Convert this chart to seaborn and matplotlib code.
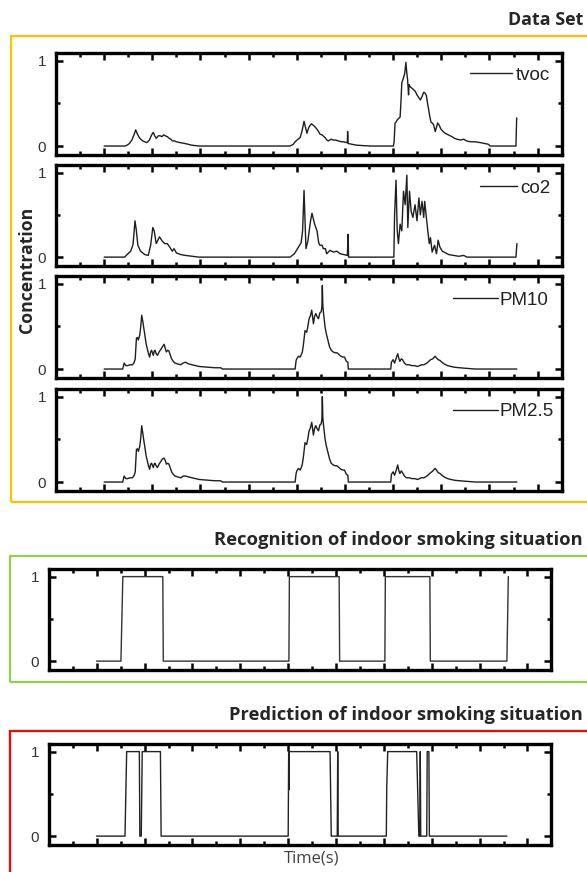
import matplotlib
matplotlib.use("Agg")
import matplotlib.pyplot as plt
import seaborn as sns
from matplotlib.patches import Rectangle
from matplotlib.ticker import MultipleLocator, FixedLocator

# ---------------- data (time in tick units, values normalised 0..1) ----------------
tvoc_t = [2.0, 2.87, 2.95, 3.05, 3.15, 3.25, 3.31, 3.38, 3.48, 3.6, 3.77, 3.88, 3.97, 4.04, 4.1, 4.16,
          4.25, 4.33, 4.4, 4.47, 4.54, 4.62, 4.7, 4.77, 4.83, 4.92, 5.0, 5.15, 5.35, 5.5, 5.63, 5.8, 5.97,
          9.72, 9.85, 9.93, 10.05, 10.14, 10.22, 10.3, 10.36, 10.42, 10.5, 10.6, 10.7, 10.77, 10.88, 10.96,
          11.05, 11.17, 11.25, 11.31, 11.42, 11.52, 11.62, 11.72, 11.86, 11.95, 12.07, 12.1, 12.11, 12.13,
          12.3, 12.48, 13.04, 14.01, 14.04, 14.08, 14.12, 14.18, 14.22, 14.29, 14.33, 14.36, 14.43, 14.48,
          14.53, 14.57, 14.6, 14.64, 14.66, 14.69, 14.77, 14.85, 14.92, 14.99, 15.06, 15.13, 15.2, 15.27,
          15.33, 15.38, 15.43, 15.48, 15.52, 15.57, 15.62, 15.68, 15.75, 15.8, 15.85, 15.92, 15.98, 16.07,
          16.16, 16.3, 16.44, 16.55, 16.65, 16.8, 16.93, 17.05, 17.2, 17.4, 17.62, 17.8, 17.96, 18.03,
          19.1, 19.13]
tvoc_v = [0, 0, 0.01, 0.03, 0.07, 0.14, 0.19, 0.14, 0.09, 0.06, 0.04, 0.07, 0.13, 0.16, 0.12, 0.09,
          0.12, 0.12, 0.11, 0.13, 0.12, 0.11, 0.09, 0.08, 0.06, 0.06, 0.05, 0.04, 0.03, 0.02, 0.01, 0.005, 0,
          0, 0.02, 0.05, 0.08, 0.10, 0.18, 0.29, 0.22, 0.15, 0.22, 0.26, 0.24, 0.22, 0.18, 0.14,
          0.13, 0.10, 0.07, 0.06, 0.08, 0.07, 0.07, 0.06, 0.05, 0.05, 0.04, 0.04, 0.17, 0.03,
          0.02, 0.01, 0, 0, 0.05, 0.27, 0.28, 0.31, 0.32, 0.34, 0.55, 0.74, 0.80, 0.85,
          0.98, 0.85, 0.78, 0.60, 0.72, 0.70, 0.68, 0.66, 0.64, 0.60, 0.57, 0.54, 0.58, 0.63,
          0.62, 0.59, 0.50, 0.42, 0.35, 0.28, 0.27, 0.25, 0.17, 0.22, 0.27, 0.24, 0.20, 0.17,
          0.15, 0.13, 0.11, 0.09, 0.08, 0.07, 0.08, 0.06, 0.05, 0.05, 0.04, 0.03, 0.02, 0,
          0, 0.33]

co2_t = [2.0, 2.85, 2.95, 3.1, 3.2, 3.28, 3.33, 3.4, 3.51, 3.69, 3.83, 3.93, 4.02, 4.08, 4.16, 4.3,
         4.41, 4.52, 4.62, 4.72, 4.83, 4.9, 5.0, 5.18, 5.38, 5.66, 5.93,
         9.72, 9.9, 10.07, 10.18, 10.24, 10.3, 10.38, 10.46, 10.56, 10.63, 10.74, 10.84, 10.91, 10.96,
         11.05, 11.1, 11.19, 11.24, 11.38, 11.52, 11.66, 11.8, 11.96, 12.1, 12.13, 12.15,
         14.03, 14.06, 14.12, 14.17, 14.22, 14.29, 14.36, 14.43, 14.5, 14.57, 14.61, 14.68, 14.75, 14.82,
         14.91, 14.99, 15.07, 15.13, 15.2, 15.27, 15.31, 15.38, 15.44, 15.5, 15.55, 15.62, 15.72, 15.8,
         15.87, 15.94, 16.04, 16.18, 16.31, 16.52, 16.73, 16.93, 17.07, 19.1, 19.14]
co2_v = [0, 0, 0.03, 0.07, 0.15, 0.43, 0.33, 0.14, 0.07, 0.03, 0.02, 0.14, 0.35, 0.31, 0.16, 0.24,
         0.19, 0.16, 0.16, 0.12, 0.07, 0.10, 0.05, 0.03, 0.02, 0.01, 0,
         0, 0.04, 0.12, 0.17, 0.31, 0.79, 0.10, 0.19, 0.41, 0.52, 0.39, 0.31, 0.17, 0.14,
         0.14, 0.10, 0.10, 0.04, 0.08, 0.06, 0.07, 0.04, 0.03, 0.02, 0.27, 0,
         0, 0.50, 0.91, 0.31, 0.16, 0.39, 0.31, 0.78, 0.62, 0.97, 0.35, 0.78, 0.54, 0.47,
         0.62, 0.43, 0.70, 0.50, 0.66, 0.47, 0.66, 0.47, 0.31, 0.16, 0.23, 0.06, 0.14, 0.04,
         0.20, 0.12, 0.07, 0.05, 0.03, 0.02, 0.01, 0.02, 0, 0, 0.16]

pm10_t = [2.0, 2.77, 2.83, 2.9, 2.97, 3.08, 3.18, 3.25, 3.29, 3.34, 3.38, 3.42, 3.48, 3.52, 3.56, 3.61,
          3.65, 3.69, 3.74, 3.79, 3.84, 3.89, 3.93, 3.97, 4.04, 4.08, 4.11, 4.16, 4.21, 4.28, 4.35, 4.42,
          4.49, 4.54, 4.58, 4.64, 4.69, 4.75, 4.8, 4.87, 4.94, 5.05, 5.18, 5.28, 5.38, 5.5, 5.66, 5.8,
          5.94, 6.15, 6.35, 6.6, 6.84, 6.91,
          9.93, 9.97, 10.0, 10.07, 10.14, 10.2, 10.23, 10.28, 10.34, 10.41, 10.46, 10.51, 10.56, 10.62,
          10.66, 10.69, 10.74, 10.79, 10.85, 10.9, 10.96, 11.01, 11.04, 11.06, 11.08, 11.1, 11.14, 11.17,
          11.22, 11.28, 11.36, 11.43, 11.51, 11.6, 11.67, 11.75, 11.83, 11.92, 11.98, 12.06, 12.12, 12.14,
          13.9, 13.93, 14.0, 14.06, 14.12, 14.19, 14.24, 14.28, 14.34, 14.39, 14.47, 14.55, 14.66, 14.78,
          14.9, 15.01, 15.1, 15.17, 15.28, 15.4, 15.48, 15.56, 15.65, 15.74, 15.8, 15.87, 15.95, 16.02,
          16.12, 16.26, 16.4, 16.57, 16.75, 16.96, 17.2, 17.43, 19.14]
pm10_v = [0, 0, 0.07, 0.04, 0.04, 0.05, 0.05, 0.08, 0.12, 0.36, 0.37, 0.34, 0.40, 0.50, 0.63, 0.55,
          0.47, 0.40, 0.30, 0.24, 0.18, 0.14, 0.20, 0.22, 0.16, 0.21, 0.22, 0.18, 0.16, 0.20, 0.23, 0.26,
          0.29, 0.24, 0.20, 0.22, 0.21, 0.16, 0.12, 0.09, 0.07, 0.06, 0.05, 0.07, 0.08, 0.06, 0.05, 0.04,
          0.03, 0.025, 0.02, 0.015, 0.015, 0,
          0, 0.10, 0.12, 0.15, 0.14, 0.18, 0.20, 0.30, 0.45, 0.43, 0.50, 0.59, 0.62, 0.69,
          0.60, 0.53, 0.62, 0.65, 0.61, 0.59, 0.66, 0.67, 0.72, 0.98, 0.75, 0.68, 0.58, 0.50,
          0.42, 0.35, 0.26, 0.22, 0.20, 0.19, 0.19, 0.17, 0.15, 0.14, 0.14, 0.09, 0.08, 0,
          0, 0.08, 0.11, 0.07, 0.12, 0.18, 0.12, 0.09, 0.12, 0.11, 0.07, 0.05, 0.05, 0.04,
          0.04, 0.03, 0.04, 0.05, 0.05, 0.07, 0.09, 0.11, 0.12, 0.15, 0.13, 0.11, 0.10, 0.08,
          0.06, 0.04, 0.03, 0.02, 0.015, 0.01, 0.005, 0, 0]

pm25_t = pm10_t
pm25_v = [0, 0, 0.07, 0.04, 0.04, 0.05, 0.05, 0.08, 0.12, 0.38, 0.39, 0.36, 0.42, 0.52, 0.66, 0.56,
          0.48, 0.41, 0.31, 0.25, 0.19, 0.15, 0.21, 0.22, 0.17, 0.21, 0.22, 0.19, 0.17, 0.21, 0.24, 0.27,
          0.28, 0.25, 0.21, 0.22, 0.21, 0.16, 0.12, 0.09, 0.07, 0.06, 0.05, 0.07, 0.07, 0.06, 0.05, 0.04,
          0.03, 0.025, 0.02, 0.015, 0.015, 0,
          0, 0.10, 0.13, 0.16, 0.14, 0.18, 0.21, 0.31, 0.46, 0.44, 0.51, 0.60, 0.63, 0.70,
          0.61, 0.55, 0.63, 0.66, 0.62, 0.60, 0.67, 0.68, 0.73, 1.00, 0.76, 0.69, 0.59, 0.51,
          0.43, 0.36, 0.27, 0.22, 0.20, 0.19, 0.19, 0.17, 0.15, 0.14, 0.14, 0.09, 0.08, 0,
          0, 0.09, 0.12, 0.08, 0.13, 0.20, 0.13, 0.10, 0.13, 0.11, 0.07, 0.05, 0.05, 0.04,
          0.04, 0.03, 0.04, 0.05, 0.05, 0.07, 0.09, 0.11, 0.13, 0.16, 0.14, 0.11, 0.10, 0.08,
          0.06, 0.04, 0.03, 0.02, 0.015, 0.01, 0.005, 0, 0]

rec_t = [1.99, 3.01, 3.09, 4.76, 4.78, 10.03, 10.05, 12.13, 12.15, 14.04, 14.06, 15.92, 15.94, 19.14, 19.2]
rec_v = [0, 0, 1, 1, 0, 0, 1, 1, 0, 0, 1, 1, 0, 0, 1]

pred_t = [1.99, 3.18, 3.25, 3.78, 3.8, 3.86, 3.9, 4.66, 4.69, 10.0, 10.02, 10.03, 10.04, 11.75, 11.8,
          12.05, 12.07, 12.09, 14.1, 14.12, 14.16, 15.37, 15.46, 15.5, 15.52, 15.54, 15.79, 15.81, 15.88,
          15.9, 19.14]
pred_v = [0, 0, 1, 1, 0, 0, 1, 1, 0, 0, 1, 0.55, 1, 1, 0,
          0, 1, 0, 0, 0.6, 1, 1, 0, 0, 1, 0, 0, 1, 1,
          0, 0]

sensor_names = ["tvoc", "co2", "PM10", "PM2.5"]
sensor_t = [tvoc_t, co2_t, pm10_t, pm25_t]
sensor_v = [tvoc_v, co2_v, pm10_v, pm25_v]

# ---------------- style / layout ----------------
sns.set_style("white")
plt.rcParams["font.family"] = ["Liberation Sans", "DejaVu Sans"]
TXT = ["Open Sans", "DejaVu Sans"]

W, H = 587, 872
fig = plt.figure(figsize=(W / 100, H / 100), dpi=100)
fig.patch.set_facecolor("white")


def axes_px(x0, y0, x1, y1):
    return fig.add_axes([x0 / W, 1 - y1 / H, (x1 - x0) / W, (y1 - y0) / H])


def frame_px(x0, y0, x1, y1, color):
    fig.add_artist(Rectangle((x0 / W, 1 - y1 / H), (x1 - x0) / W, (y1 - y0) / H,
                             transform=fig.transFigure, fill=False, edgecolor=color,
                             linewidth=1.6, clip_on=False))


def style(ax):
    ax.set_xlim(0, 21)
    ax.set_ylim(-0.105, 1.09)
    ax.xaxis.set_major_locator(MultipleLocator(2))
    ax.xaxis.set_minor_locator(MultipleLocator(1))
    ax.set_yticks([0, 1])
    ax.set_yticklabels(["0", "1"])
    ax.yaxis.set_minor_locator(FixedLocator([0.5]))
    ax.tick_params(which="both", direction="in", top=True, right=True, bottom=True, left=True,
                   width=1.8, color="black")
    ax.tick_params(which="major", length=5)
    ax.tick_params(which="minor", length=2.8)
    ax.tick_params(axis="x", labelbottom=False)
    ax.tick_params(axis="y", labelsize=11, labelcolor="#333333", pad=7)
    for s in ax.spines.values():
        s.set_visible(True)
        s.set_linewidth(2.4)
        s.set_color("black")
    ax.set_xlabel("")
    ax.set_ylabel("")


LINE = "#1e1e1e"

# frames
frame_px(11, 36.5, 640, 502, "#FFC000")
frame_px(10, 556, 640, 682, "#92D050")
frame_px(10, 731, 640, 920, "#FF0000")

# sensor panels
panel_y = [(53, 155), (165, 266), (276, 378), (389, 491)]
leg_cfg = [  # (anchor x, anchor y, handlelength, handletextpad)
    (0.977, 0.784, 2.25, 0.2),
    (0.977, 0.77, 1.95, 0.15),
    (0.974, 0.765, 2.4, 0.1),
    (0.985, 0.777, 2.4, 0.1),
]
for name, tt, vv, (y0, y1), (lx, ly, hl, hp) in zip(sensor_names, sensor_t, sensor_v, panel_y, leg_cfg):
    ax = axes_px(56, y0, 561.7, y1)
    sns.lineplot(x=tt, y=vv, ax=ax, sort=False, estimator=None, color=LINE, linewidth=1.0, legend=False)
    style(ax)
    ax.legend(handles=[ax.lines[0]], labels=[name], loc="center right", bbox_to_anchor=(lx, ly),
              frameon=False, fontsize=13.5, handlelength=hl, handletextpad=hp,
              borderaxespad=0, borderpad=0, labelcolor="#222222")

# recognition / prediction panels
ax_r = axes_px(48.9, 569, 551.4, 670)
sns.lineplot(x=rec_t, y=rec_v, ax=ax_r, sort=False, estimator=None, color="#333333", linewidth=1.0,
             legend=False)
style(ax_r)

ax_p = axes_px(48.9, 744, 551.4, 845)
sns.lineplot(x=pred_t, y=pred_v, ax=ax_p, sort=False, estimator=None, color="#222222", linewidth=1.0,
             legend=False)
style(ax_p)

# texts
fig.text(583 / W, 1 - 25 / H, "Data Set", ha="right", va="baseline", fontsize=12.9,
         fontweight="bold", family=TXT)
fig.text(583 / W, 1 - 544.5 / H, "Recognition of indoor smoking situation", ha="right",
         va="baseline", fontsize=13.2, fontweight="bold", family=TXT)
fig.text(583 / W, 1 - 719.5 / H, "Prediction of indoor smoking situation", ha="right",
         va="baseline", fontsize=13.2, fontweight="bold", family=TXT)
fig.text(27 / W, 1 - 270 / H, "Concentration", rotation=90, ha="center", va="center",
         fontsize=12.7, fontweight="bold", family=TXT)
fig.text(312 / W, 1 - 858 / H, "Time(s)", ha="center", va="center", fontsize=12,
         color="#404040", family=TXT)

fig.savefig("out.png", dpi=100, facecolor="white")
